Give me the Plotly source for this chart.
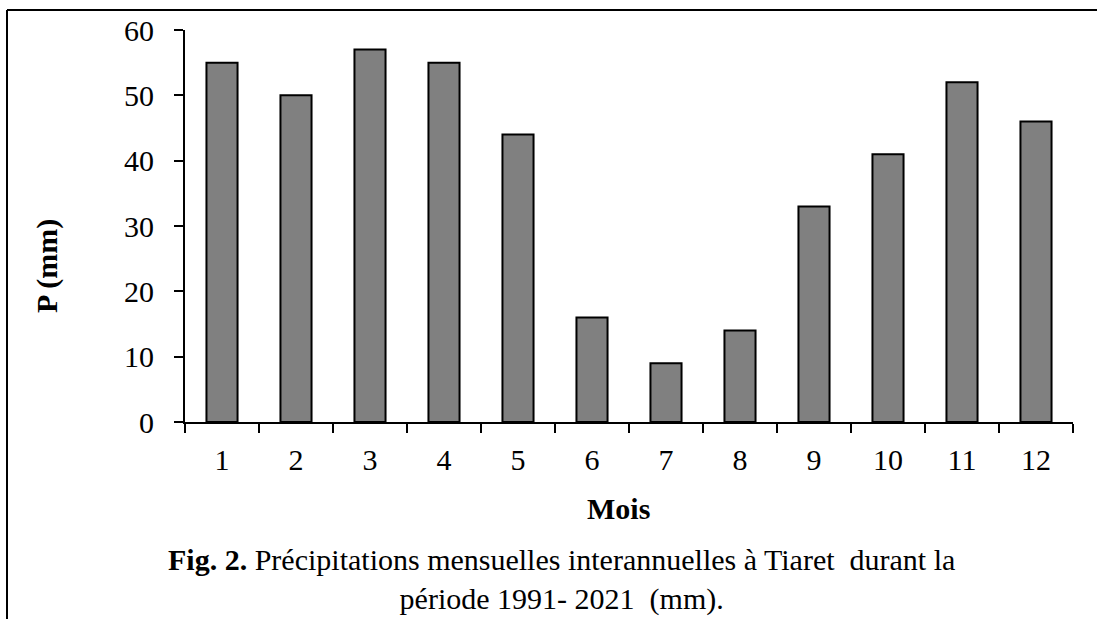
import plotly.graph_objects as go

months = ["1", "2", "3", "4", "5", "6", "7", "8", "9", "10", "11", "12"]
precip = [55, 50, 57, 55, 44, 16, 9, 14, 33, 41, 52, 46]
y_ticks = [0, 10, 20, 30, 40, 50, 60]

W, H = 1097, 619
# plot area in page pixels
L, R, T, B = 185, 1073, 30, 422
pw, ph = R - L, B - T

def px(x):
    return (x - L) / pw

def py(y):
    return (B - y) / ph

FONT = "Liberation Serif, Times New Roman, serif"

fig = go.Figure(go.Bar(
    x=months, y=precip,
    marker=dict(color="#808080", line=dict(color="black", width=2)),
    width=0.42,
))

fig.update_layout(
    width=W, height=H,
    margin=dict(l=L, r=W - R, t=T, b=H - B),
    paper_bgcolor="white", plot_bgcolor="white",
    font=dict(family=FONT, size=30, color="black"),
    showlegend=False,
    xaxis=dict(
        type="category", showline=True, linecolor="black", linewidth=2,
        ticks="outside", tickson="boundaries", ticklen=9, tickwidth=2, tickcolor="black",
        showgrid=False, tickfont=dict(size=30), ticklabelstandoff=10, automargin=False,
    ),
    yaxis=dict(
        range=[0, 60], tickvals=y_ticks, showline=True, linecolor="black", linewidth=2,
        ticks="outside", ticklen=9, tickwidth=2, tickcolor="black",
        showgrid=False, zeroline=False, tickfont=dict(size=30), ticklabelstandoff=14,
        automargin=False,
    ),
)

fig.add_annotation(text="<b>Mois</b>", x=px(618), y=py(508), xref="paper", yref="paper",
                   showarrow=False, font=dict(size=30), xanchor="center", yanchor="middle")
fig.add_annotation(text="<b>P (mm)</b>", x=px(47), y=py(266), xref="paper", yref="paper",
                   showarrow=False, font=dict(size=30), textangle=-90,
                   xanchor="center", yanchor="middle")
fig.add_annotation(
    text="<b>Fig. 2.</b> Précipitations mensuelles interannuelles à Tiaret \u00a0durant la"
         "<br>période 1991- 2021 \u00a0(mm).",
    x=px(561), y=py(579), xref="paper", yref="paper", align="center",
    showarrow=False, font=dict(size=30), xanchor="center", yanchor="middle")

# frame lines (top and left)
fig.add_shape(type="line", xref="paper", yref="paper", x0=px(7), x1=px(1100), y0=py(10), y1=py(10),
              line=dict(color="black", width=2))
fig.add_shape(type="line", xref="paper", yref="paper", x0=px(7), x1=px(7), y0=py(10), y1=py(625),
              line=dict(color="black", width=2))

fig.write_html("out.html", config={"displayModeBar": False},
               post_script="document.body.style.margin='0px';")
